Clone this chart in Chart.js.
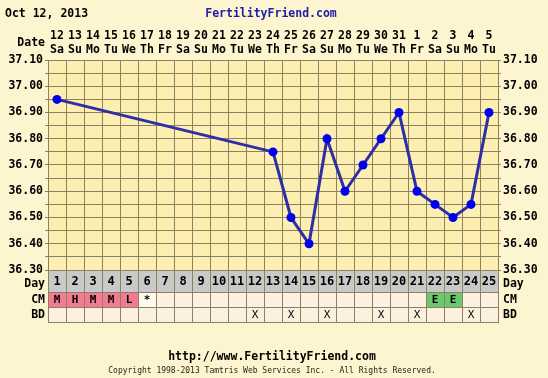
<!DOCTYPE html>
<html>
<head>
<meta charset="utf-8">
<script src="https://cdn.jsdelivr.net/npm/chart.js@4/dist/chart.umd.min.js"></script>
<style>
  html, body { margin: 0; padding: 0; background: #fdf5cf; }
  #wrap { width: 548px; height: 378px; }
</style>
</head>
<body>
<div id="wrap"><canvas id="bbt" width="548" height="378"></canvas></div>
<script>
// Cycle data, one entry per cycle day
const DAYS = ['1','2','3','4','5','6','7','8','9','10','11','12','13','14','15','16','17','18','19','20','21','22','23','24','25'];
const DATES = ['12','13','14','15','16','17','18','19','20','21','22','23','24','25','26','27','28','29','30','31','1','2','3','4','5'];
const WEEKDAYS = ['Sa','Su','Mo','Tu','We','Th','Fr','Sa','Su','Mo','Tu','We','Th','Fr','Sa','Su','Mo','Tu','We','Th','Fr','Sa','Su','Mo','Tu'];
const TEMPS = [36.95, null, null, null, null, null, null, null, null, null, null, null,
               36.75, 36.50, 36.40, 36.80, 36.60, 36.70, 36.80, 36.90, 36.60, 36.55, 36.50, 36.55, 36.90];
const CM = ['M','H','M','M','L','*','','','','','','','','','','','','','','','','E','E','',''];
const BD = ['','','','','','','','','','','','X','','X','','X','','','X','','X','','','X',''];
const Y_MIN = 36.30;
const Y_MAX = 37.10;

const FONT = "'DejaVu Sans Mono', 'Liberation Mono', monospace";
const GRID = '#8c8260';
const PAGE_BG = '#fdf5cf';
const PLOT_BG = '#fcefb1';
const CELL_BG = '#fcf1e0';
const DAY_BG = '#c9c9c9';
const PINK = '#f27a93';
const GREEN = '#6cc86c';
const LINE_BLUE = '#2e2ea6';
const DOT_BLUE = '#0000f0';

function cmColor(code) {
    if (code === 'M' || code === 'H' || code === 'L' || code === 'S') return PINK;
    if (code === 'E') return GREEN;
    if (code === '*') return '#fffaf0';
    return CELL_BG;
}

const fertilityPlugin = {
    id: 'fertility',
    beforeDraw(chart) {
        const { ctx, chartArea: a } = chart;
        ctx.save();
        ctx.fillStyle = PAGE_BG;
        ctx.fillRect(0, 0, chart.width, chart.height);
        ctx.fillStyle = PLOT_BG;
        ctx.fillRect(a.left, a.top, a.right - a.left, a.bottom - a.top);
        ctx.restore();
    },
    afterDraw(chart) {
        const { ctx, chartArea: a } = chart;
        const x = chart.scales.x;
        const colW = (a.right - a.left) / DAYS.length;
        const rows = [
            { name: 'Day', top: a.bottom, h: 22 },
            { name: 'CM', top: a.bottom + 22, h: 15 },
            { name: 'BD', top: a.bottom + 37, h: 15 },
        ];

        ctx.save();
        // header
        ctx.textBaseline = 'middle';
        ctx.font = 'bold 11.5px ' + FONT;
        ctx.fillStyle = '#000';
        ctx.textAlign = 'left';
        ctx.fillText('Oct 12, 2013', 5, 14);
        ctx.fillStyle = '#1c1ca8';
        ctx.textAlign = 'center';
        ctx.fillText('FertilityFriend.com', 271, 14);
        ctx.fillStyle = '#000';
        ctx.textAlign = 'right';
        ctx.fillText('Date', 45, 43);

        // table rows below the temperature grid
        rows.forEach((row) => {
            DAYS.forEach((d, i) => {
                const cx = x.getPixelForValue(i);
                const left = cx - colW / 2;
                let bg = CELL_BG;
                let txt = '';
                if (row.name === 'Day') { bg = DAY_BG; txt = d; }
                if (row.name === 'CM') { bg = cmColor(CM[i]); txt = CM[i]; }
                if (row.name === 'BD') { txt = BD[i]; }
                ctx.fillStyle = bg;
                ctx.fillRect(left, row.top, colW, row.h);
                ctx.strokeStyle = GRID;
                ctx.lineWidth = 1;
                ctx.strokeRect(Math.round(left) + 0.5, row.top + 0.5, Math.round(colW), row.h);
                if (txt) {
                    ctx.fillStyle = '#000';
                    ctx.textAlign = 'center';
                    ctx.font = (row.name === 'BD' ? '' : 'bold ') + (row.name === 'Day' ? '12px ' : '11px ') + FONT;
                    ctx.fillText(txt, cx, row.top + row.h / 2 + 1);
                }
            });
            ctx.fillStyle = '#000';
            ctx.font = 'bold 11.5px ' + FONT;
            ctx.textAlign = 'right';
            ctx.fillText(row.name, 45, row.top + row.h / 2 + (row.name === 'Day' ? 3 : 1));
            ctx.textAlign = 'left';
            ctx.fillText(row.name, 503, row.top + row.h / 2 + (row.name === 'Day' ? 3 : 1));
        });

        // footer
        ctx.textAlign = 'center';
        ctx.fillStyle = '#000';
        ctx.font = 'bold 11.5px ' + FONT;
        ctx.fillText('http://www.FertilityFriend.com', 272, 357);
        ctx.fillStyle = '#2a2418';
        ctx.font = '8px ' + FONT;
        ctx.fillText('Copyright 1998-2013 Tamtris Web Services Inc. - All Rights Reserved.', 272, 371);
        ctx.restore();
    },
};

function tempTick(value) {
    const hundredths = Math.round(value * 100);
    return hundredths % 10 === 0 ? (hundredths / 100).toFixed(2) : '';
}

function yAxis(position) {
    return {
        type: 'linear',
        position: position,
        min: Y_MIN,
        max: Y_MAX,
        afterFit(scale) { scale.width = position === 'left' ? 48 : 50; },
        grid: {
            color: GRID,
            lineWidth: 1,
            tickLength: 3,
            drawOnChartArea: position === 'left',
        },
        border: { color: GRID },
        ticks: {
            stepSize: 0.05,
            autoSkip: false,
            padding: 2,
            color: '#000',
            font: { family: FONT, size: 11.5, weight: 'bold' },
            callback: tempTick,
        },
    };
}

new Chart(document.getElementById('bbt'), {
    type: 'line',
    data: {
        labels: DATES.map((d, i) => [d, WEEKDAYS[i]]),
        datasets: [{
            data: TEMPS,
            spanGaps: true,
            borderColor: LINE_BLUE,
            borderWidth: 3,
            pointRadius: 4.5,
            pointBackgroundColor: DOT_BLUE,
            pointBorderColor: DOT_BLUE,
            pointBorderWidth: 0,
            tension: 0,
            segment: {
                borderDash: (c) => (c.p1DataIndex - c.p0DataIndex > 1 ? [6, 4] : undefined),
                borderWidth: (c) => (c.p1DataIndex - c.p0DataIndex > 1 ? 1.3 : undefined),
            },
        }],
    },
    options: {
        responsive: false,
        animation: false,
        layout: { padding: { top: 0, left: 0, right: 0, bottom: 108 } },
        plugins: { legend: { display: false }, tooltip: { enabled: false } },
        scales: {
            x: {
                type: 'category',
                position: 'top',
                offset: true,
                afterFit(scale) { scale.height = 60; },
                grid: { color: GRID, offset: true, drawTicks: false },
                border: { color: GRID },
                ticks: {
                    autoSkip: false,
                    maxRotation: 0,
                    padding: 3,
                    color: '#000',
                    font: { family: FONT, size: 11.5, weight: 'bold', lineHeight: 1.2 },
                },
            },
            y: yAxis('left'),
            y2: yAxis('right'),
        },
    },
    plugins: [fertilityPlugin],
});
</script>
</body>
</html>
